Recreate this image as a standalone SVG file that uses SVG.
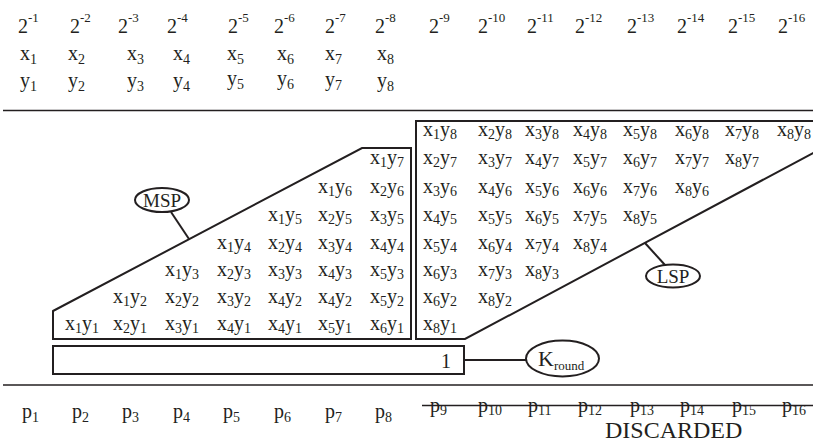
<svg xmlns="http://www.w3.org/2000/svg" width="813" height="448" viewBox="0 0 813 448">
<style>
text{font-family:"Liberation Serif","Times New Roman",serif;font-size:20px;fill:#231f20}
.s{font-size:14px}
.sup{font-size:13px}
.box{fill:none;stroke:#231f20;stroke-width:2}
.ln{fill:none;stroke:#231f20;stroke-width:2}
.sep{fill:none;stroke:#231f20;stroke-width:1.5}
.lbl{font-size:19px}
</style>
<rect width="813" height="448" fill="#fff"/>
<g id="powers">
<text x="18" y="33">2<tspan class="sup" dy="-11">-1</tspan></text>
<text x="70" y="33">2<tspan class="sup" dy="-11">-2</tspan></text>
<text x="118" y="33">2<tspan class="sup" dy="-11">-3</tspan></text>
<text x="167" y="33">2<tspan class="sup" dy="-11">-4</tspan></text>
<text x="228" y="33">2<tspan class="sup" dy="-11">-5</tspan></text>
<text x="274" y="33">2<tspan class="sup" dy="-11">-6</tspan></text>
<text x="325" y="33">2<tspan class="sup" dy="-11">-7</tspan></text>
<text x="375" y="33">2<tspan class="sup" dy="-11">-8</tspan></text>
<text x="429" y="33">2<tspan class="sup" dy="-11">-9</tspan></text>
<text x="478" y="33">2<tspan class="sup" dy="-11">-10</tspan></text>
<text x="527" y="33">2<tspan class="sup" dy="-11">-11</tspan></text>
<text x="575" y="33">2<tspan class="sup" dy="-11">-12</tspan></text>
<text x="627" y="33">2<tspan class="sup" dy="-11">-13</tspan></text>
<text x="677" y="33">2<tspan class="sup" dy="-11">-14</tspan></text>
<text x="728" y="33">2<tspan class="sup" dy="-11">-15</tspan></text>
<text x="778" y="33">2<tspan class="sup" dy="-11">-16</tspan></text>
</g>
<g id="operands">
<text x="20" y="60">x<tspan class="s" dy="4">1</tspan></text>
<text x="68" y="60">x<tspan class="s" dy="4">2</tspan></text>
<text x="127" y="60">x<tspan class="s" dy="4">3</tspan></text>
<text x="173" y="60">x<tspan class="s" dy="4">4</tspan></text>
<text x="227" y="60">x<tspan class="s" dy="4">5</tspan></text>
<text x="277" y="60">x<tspan class="s" dy="4">6</tspan></text>
<text x="325" y="60">x<tspan class="s" dy="4">7</tspan></text>
<text x="377" y="60">x<tspan class="s" dy="4">8</tspan></text>
<text x="20" y="87">y<tspan class="s" dy="4">1</tspan></text>
<text x="68" y="87">y<tspan class="s" dy="4">2</tspan></text>
<text x="127" y="87">y<tspan class="s" dy="4">3</tspan></text>
<text x="173" y="87">y<tspan class="s" dy="4">4</tspan></text>
<text x="227" y="85">y<tspan class="s" dy="4">5</tspan></text>
<text x="277" y="85">y<tspan class="s" dy="4">6</tspan></text>
<text x="325" y="86">y<tspan class="s" dy="4">7</tspan></text>
<text x="377" y="87">y<tspan class="s" dy="4">8</tspan></text>
</g>
<g id="separators">
<line class="sep" x1="3" y1="110.5" x2="813" y2="110.5"/>
<line class="sep" x1="3" y1="385" x2="813" y2="385"/>
</g>
<g id="msp">
<path class="box" d="M53,311 L362,148 L411,148 L411,339 L53,339 Z"/>
<text x="370" y="164">x<tspan class="s" dy="3">1</tspan><tspan dy="-3">y</tspan><tspan class="s" dy="3">7</tspan></text>
<text x="318" y="193">x<tspan class="s" dy="3">1</tspan><tspan dy="-3">y</tspan><tspan class="s" dy="3">6</tspan></text>
<text x="370" y="193">x<tspan class="s" dy="3">2</tspan><tspan dy="-3">y</tspan><tspan class="s" dy="3">6</tspan></text>
<text x="268" y="221">x<tspan class="s" dy="3">1</tspan><tspan dy="-3">y</tspan><tspan class="s" dy="3">5</tspan></text>
<text x="318" y="221">x<tspan class="s" dy="3">2</tspan><tspan dy="-3">y</tspan><tspan class="s" dy="3">5</tspan></text>
<text x="370" y="221">x<tspan class="s" dy="3">3</tspan><tspan dy="-3">y</tspan><tspan class="s" dy="3">5</tspan></text>
<text x="217" y="249">x<tspan class="s" dy="3">1</tspan><tspan dy="-3">y</tspan><tspan class="s" dy="3">4</tspan></text>
<text x="268" y="249">x<tspan class="s" dy="3">2</tspan><tspan dy="-3">y</tspan><tspan class="s" dy="3">4</tspan></text>
<text x="318" y="249">x<tspan class="s" dy="3">3</tspan><tspan dy="-3">y</tspan><tspan class="s" dy="3">4</tspan></text>
<text x="370" y="249">x<tspan class="s" dy="3">4</tspan><tspan dy="-3">y</tspan><tspan class="s" dy="3">4</tspan></text>
<text x="165" y="276">x<tspan class="s" dy="3">1</tspan><tspan dy="-3">y</tspan><tspan class="s" dy="3">3</tspan></text>
<text x="217" y="276">x<tspan class="s" dy="3">2</tspan><tspan dy="-3">y</tspan><tspan class="s" dy="3">3</tspan></text>
<text x="268" y="276">x<tspan class="s" dy="3">3</tspan><tspan dy="-3">y</tspan><tspan class="s" dy="3">3</tspan></text>
<text x="318" y="276">x<tspan class="s" dy="3">4</tspan><tspan dy="-3">y</tspan><tspan class="s" dy="3">3</tspan></text>
<text x="370" y="276">x<tspan class="s" dy="3">5</tspan><tspan dy="-3">y</tspan><tspan class="s" dy="3">3</tspan></text>
<text x="113" y="303">x<tspan class="s" dy="3">1</tspan><tspan dy="-3">y</tspan><tspan class="s" dy="3">2</tspan></text>
<text x="165" y="303">x<tspan class="s" dy="3">2</tspan><tspan dy="-3">y</tspan><tspan class="s" dy="3">2</tspan></text>
<text x="217" y="303">x<tspan class="s" dy="3">3</tspan><tspan dy="-3">y</tspan><tspan class="s" dy="3">2</tspan></text>
<text x="268" y="303">x<tspan class="s" dy="3">4</tspan><tspan dy="-3">y</tspan><tspan class="s" dy="3">2</tspan></text>
<text x="318" y="303">x<tspan class="s" dy="3">4</tspan><tspan dy="-3">y</tspan><tspan class="s" dy="3">2</tspan></text>
<text x="370" y="303">x<tspan class="s" dy="3">5</tspan><tspan dy="-3">y</tspan><tspan class="s" dy="3">2</tspan></text>
<text x="65" y="330">x<tspan class="s" dy="3">1</tspan><tspan dy="-3">y</tspan><tspan class="s" dy="3">1</tspan></text>
<text x="113" y="330">x<tspan class="s" dy="3">2</tspan><tspan dy="-3">y</tspan><tspan class="s" dy="3">1</tspan></text>
<text x="165" y="330">x<tspan class="s" dy="3">3</tspan><tspan dy="-3">y</tspan><tspan class="s" dy="3">1</tspan></text>
<text x="217" y="330">x<tspan class="s" dy="3">4</tspan><tspan dy="-3">y</tspan><tspan class="s" dy="3">1</tspan></text>
<text x="268" y="330">x<tspan class="s" dy="3">4</tspan><tspan dy="-3">y</tspan><tspan class="s" dy="3">1</tspan></text>
<text x="318" y="330">x<tspan class="s" dy="3">5</tspan><tspan dy="-3">y</tspan><tspan class="s" dy="3">1</tspan></text>
<text x="370" y="330">x<tspan class="s" dy="3">6</tspan><tspan dy="-3">y</tspan><tspan class="s" dy="3">1</tspan></text>
</g>
<g id="lsp">
<path class="box" d="M815,152 L465,339 L416,339 L416,121 L815,121"/>
<text x="423" y="136">x<tspan class="s" dy="3">1</tspan><tspan dy="-3">y</tspan><tspan class="s" dy="3">8</tspan></text>
<text x="478" y="136">x<tspan class="s" dy="3">2</tspan><tspan dy="-3">y</tspan><tspan class="s" dy="3">8</tspan></text>
<text x="525" y="136">x<tspan class="s" dy="3">3</tspan><tspan dy="-3">y</tspan><tspan class="s" dy="3">8</tspan></text>
<text x="573" y="136">x<tspan class="s" dy="3">4</tspan><tspan dy="-3">y</tspan><tspan class="s" dy="3">8</tspan></text>
<text x="623" y="136">x<tspan class="s" dy="3">5</tspan><tspan dy="-3">y</tspan><tspan class="s" dy="3">8</tspan></text>
<text x="675" y="136">x<tspan class="s" dy="3">6</tspan><tspan dy="-3">y</tspan><tspan class="s" dy="3">8</tspan></text>
<text x="725" y="136">x<tspan class="s" dy="3">7</tspan><tspan dy="-3">y</tspan><tspan class="s" dy="3">8</tspan></text>
<text x="777" y="136">x<tspan class="s" dy="3">8</tspan><tspan dy="-3">y</tspan><tspan class="s" dy="3">8</tspan></text>
<text x="423" y="164">x<tspan class="s" dy="3">2</tspan><tspan dy="-3">y</tspan><tspan class="s" dy="3">7</tspan></text>
<text x="478" y="164">x<tspan class="s" dy="3">3</tspan><tspan dy="-3">y</tspan><tspan class="s" dy="3">7</tspan></text>
<text x="525" y="164">x<tspan class="s" dy="3">4</tspan><tspan dy="-3">y</tspan><tspan class="s" dy="3">7</tspan></text>
<text x="573" y="164">x<tspan class="s" dy="3">5</tspan><tspan dy="-3">y</tspan><tspan class="s" dy="3">7</tspan></text>
<text x="623" y="164">x<tspan class="s" dy="3">6</tspan><tspan dy="-3">y</tspan><tspan class="s" dy="3">7</tspan></text>
<text x="675" y="164">x<tspan class="s" dy="3">7</tspan><tspan dy="-3">y</tspan><tspan class="s" dy="3">7</tspan></text>
<text x="725" y="164">x<tspan class="s" dy="3">8</tspan><tspan dy="-3">y</tspan><tspan class="s" dy="3">7</tspan></text>
<text x="423" y="193">x<tspan class="s" dy="3">3</tspan><tspan dy="-3">y</tspan><tspan class="s" dy="3">6</tspan></text>
<text x="478" y="193">x<tspan class="s" dy="3">4</tspan><tspan dy="-3">y</tspan><tspan class="s" dy="3">6</tspan></text>
<text x="525" y="193">x<tspan class="s" dy="3">5</tspan><tspan dy="-3">y</tspan><tspan class="s" dy="3">6</tspan></text>
<text x="573" y="193">x<tspan class="s" dy="3">6</tspan><tspan dy="-3">y</tspan><tspan class="s" dy="3">6</tspan></text>
<text x="623" y="193">x<tspan class="s" dy="3">7</tspan><tspan dy="-3">y</tspan><tspan class="s" dy="3">6</tspan></text>
<text x="675" y="193">x<tspan class="s" dy="3">8</tspan><tspan dy="-3">y</tspan><tspan class="s" dy="3">6</tspan></text>
<text x="423" y="221">x<tspan class="s" dy="3">4</tspan><tspan dy="-3">y</tspan><tspan class="s" dy="3">5</tspan></text>
<text x="478" y="221">x<tspan class="s" dy="3">5</tspan><tspan dy="-3">y</tspan><tspan class="s" dy="3">5</tspan></text>
<text x="525" y="221">x<tspan class="s" dy="3">6</tspan><tspan dy="-3">y</tspan><tspan class="s" dy="3">5</tspan></text>
<text x="573" y="221">x<tspan class="s" dy="3">7</tspan><tspan dy="-3">y</tspan><tspan class="s" dy="3">5</tspan></text>
<text x="623" y="221">x<tspan class="s" dy="3">8</tspan><tspan dy="-3">y</tspan><tspan class="s" dy="3">5</tspan></text>
<text x="423" y="249">x<tspan class="s" dy="3">5</tspan><tspan dy="-3">y</tspan><tspan class="s" dy="3">4</tspan></text>
<text x="478" y="249">x<tspan class="s" dy="3">6</tspan><tspan dy="-3">y</tspan><tspan class="s" dy="3">4</tspan></text>
<text x="525" y="249">x<tspan class="s" dy="3">7</tspan><tspan dy="-3">y</tspan><tspan class="s" dy="3">4</tspan></text>
<text x="573" y="249">x<tspan class="s" dy="3">8</tspan><tspan dy="-3">y</tspan><tspan class="s" dy="3">4</tspan></text>
<text x="423" y="276">x<tspan class="s" dy="3">6</tspan><tspan dy="-3">y</tspan><tspan class="s" dy="3">3</tspan></text>
<text x="478" y="276">x<tspan class="s" dy="3">7</tspan><tspan dy="-3">y</tspan><tspan class="s" dy="3">3</tspan></text>
<text x="525" y="276">x<tspan class="s" dy="3">8</tspan><tspan dy="-3">y</tspan><tspan class="s" dy="3">3</tspan></text>
<text x="423" y="303">x<tspan class="s" dy="3">6</tspan><tspan dy="-3">y</tspan><tspan class="s" dy="3">2</tspan></text>
<text x="478" y="303">x<tspan class="s" dy="3">8</tspan><tspan dy="-3">y</tspan><tspan class="s" dy="3">2</tspan></text>
<text x="423" y="330">x<tspan class="s" dy="3">8</tspan><tspan dy="-3">y</tspan><tspan class="s" dy="3">1</tspan></text>
</g>
<g id="kround-box">
<rect class="box" x="53" y="346" width="411" height="28"/>
<text x="441" y="368">1</text>
</g>
<g id="msp-label">
<ellipse class="box" cx="162" cy="200" rx="27" ry="12"/>
<text class="lbl" x="162" y="207" text-anchor="middle">MSP</text>
</g>
<g id="lsp-label">
<ellipse class="box" cx="673" cy="276" rx="27" ry="11.5"/>
<text class="lbl" x="673" y="283" text-anchor="middle">LSP</text>
</g>
<g id="kround-label">
<ellipse class="box" cx="562.5" cy="358.5" rx="36.5" ry="18"/>
<text x="538" y="366" style="font-size:22px">K<tspan style="font-size:13px" dy="4">round</tspan></text>
</g>
<g id="connectors">
<line class="ln" x1="171" y1="212" x2="189" y2="239"/>
<line class="ln" x1="645" y1="243" x2="665" y2="265"/>
<line class="ln" x1="464" y1="360" x2="526" y2="360"/>
</g>
<g id="products">
<text x="22" y="418">p<tspan class="s" dy="4">1</tspan></text>
<text x="72" y="418">p<tspan class="s" dy="4">2</tspan></text>
<text x="122" y="418">p<tspan class="s" dy="4">3</tspan></text>
<text x="173" y="418">p<tspan class="s" dy="4">4</tspan></text>
<text x="223" y="418">p<tspan class="s" dy="4">5</tspan></text>
<text x="274" y="418">p<tspan class="s" dy="4">6</tspan></text>
<text x="325" y="418">p<tspan class="s" dy="4">7</tspan></text>
<text x="375" y="418">p<tspan class="s" dy="4">8</tspan></text>
<text x="430" y="412">p<tspan class="s" dy="3">9</tspan></text>
<text x="478" y="412">p<tspan class="s" dy="3">10</tspan></text>
<text x="528" y="412">p<tspan class="s" dy="3">11</tspan></text>
<text x="578" y="412">p<tspan class="s" dy="3">12</tspan></text>
<text x="630" y="412">p<tspan class="s" dy="3">13</tspan></text>
<text x="680" y="412">p<tspan class="s" dy="3">14</tspan></text>
<text x="732" y="412">p<tspan class="s" dy="3">15</tspan></text>
<text x="782" y="412">p<tspan class="s" dy="3">16</tspan></text>
<line class="sep" x1="422" y1="405.5" x2="813" y2="405.5"/>
<text x="605" y="438" style="font-size:24px">DISCARDED</text>
</g>
</svg>
